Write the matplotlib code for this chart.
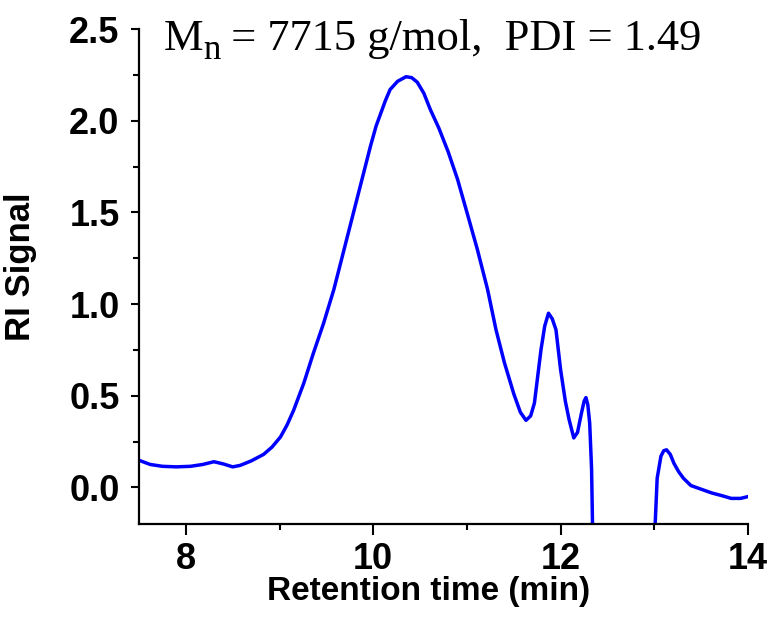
# GPC trace: RI signal vs retention time
import numpy as np
import matplotlib.pyplot as plt

# ============================================
# DATA
# ============================================

time_min = [7.50, 7.62, 7.75, 7.90, 8.05, 8.18, 8.30, 8.40, 8.50, 8.58,
            8.70, 8.83, 8.92, 9.01, 9.08, 9.15, 9.26, 9.36, 9.47, 9.58,
            9.69, 9.76, 9.83, 9.90, 9.97, 10.03, 10.08, 10.13, 10.18, 10.26,
            10.35, 10.41, 10.47, 10.54, 10.61, 10.70, 10.80, 10.90, 11.00,
            11.11, 11.22, 11.31, 11.40, 11.50, 11.57, 11.63, 11.68, 11.72,
            11.79, 11.83, 11.87, 11.91, 11.95, 12.00, 12.05, 12.09, 12.14,
            12.18, 12.22, 12.25, 12.27, 12.29, 12.31, 12.33, 12.35, 12.37,
            np.nan, 12.97, 13.00, 13.03, 13.07, 13.10, 13.13, 13.17, 13.21,
            13.26, 13.31, 13.39, 13.50, 13.61, 13.72, 13.82, 13.92, 14.00]

ri_signal = [0.148, 0.125, 0.115, 0.112, 0.115, 0.125, 0.140, 0.128, 0.112, 0.120,
             0.145, 0.180, 0.220, 0.275, 0.340, 0.420, 0.570, 0.730, 0.895, 1.080,
             1.300, 1.440, 1.580, 1.720, 1.860, 1.970, 2.040, 2.110, 2.170, 2.215,
             2.240, 2.235, 2.210, 2.150, 2.060, 1.960, 1.830, 1.680, 1.500,
             1.300, 1.080, 0.860, 0.680, 0.510, 0.410, 0.366, 0.390, 0.460,
             0.750, 0.880, 0.950, 0.920, 0.860, 0.640, 0.470, 0.370, 0.270,
             0.300, 0.400, 0.470, 0.490, 0.450, 0.350, 0.100, -0.500, -2.000,
             np.nan, -2.000, -0.300, 0.050, 0.170, 0.200, 0.205, 0.180, 0.130,
             0.085, 0.050, 0.010, -0.010, -0.030, -0.045, -0.060, -0.060, -0.050]

x_ticks = [8, 10, 12, 14]
y_ticks = [0.0, 0.5, 1.0, 1.5, 2.0, 2.5]

# ============================================
# PLOT
# ============================================

plt.rcParams['font.family'] = 'Liberation Sans'
plt.rcParams['font.weight'] = 'bold'
plt.rcParams['axes.labelweight'] = 'bold'

fig = plt.figure(figsize=(7.72, 6.18), dpi=100)
ax = fig.add_axes([0.180, 0.152, 0.789, 0.801])

ax.plot(time_min, ri_signal, color='#0000ff', linewidth=2.5)

ax.set_xlim(7.5, 14)
ax.set_ylim(-0.2, 2.5)
ax.set_xticks(x_ticks)
ax.set_xticks([9, 11, 13], minor=True)
ax.set_yticks(y_ticks)
ax.set_yticks([0.25, 0.75, 1.25, 1.75, 2.25], minor=True)
ax.set_yticklabels([f"{v:.1f}" for v in y_ticks])

for side in ['top', 'right']:
    ax.spines[side].set_visible(False)
for side in ['left', 'bottom']:
    ax.spines[side].set_linewidth(1.6)

ax.tick_params(axis='both', which='major', direction='out', width=1.5,
               labelsize=26)
ax.tick_params(axis='x', which='major', length=8, pad=5)
ax.tick_params(axis='y', which='major', length=6, pad=8)
ax.tick_params(axis='both', which='minor', direction='out', length=4.5,
               width=1.5)

ax.set_xlabel("Retention time (min)", fontsize=24)
ax.xaxis.set_label_coords(0.475, -0.105)
ax.set_ylabel("RI Signal", fontsize=25)
ax.yaxis.set_label_coords(-0.167, 0.52)

# title inside the axes: M with a large, lowered subscript n
title_y = 0.958
t_m = ax.text(0.040, title_y, "M", transform=ax.transAxes, ha='left',
              va='baseline', fontsize=32, family='Liberation Serif',
              fontweight='normal')
fig.canvas.draw()
inv = ax.transAxes.inverted()
bb = t_m.get_window_extent()
x_n = inv.transform((bb.x1, 0))[0]
t_n = ax.text(x_n, title_y - 9 / (0.801 * 618), "n", transform=ax.transAxes,
              ha='left', va='baseline', fontsize=25,
              family='Liberation Serif', fontweight='normal')
fig.canvas.draw()
bb = t_n.get_window_extent()
x_rest = inv.transform((bb.x1, 0))[0]
ax.text(x_rest, title_y, " = 7715 g/mol,  PDI = 1.49", transform=ax.transAxes,
        ha='left', va='baseline', fontsize=32, family='Liberation Serif',
        fontweight='normal')

plt.savefig("out.png", dpi=100)
